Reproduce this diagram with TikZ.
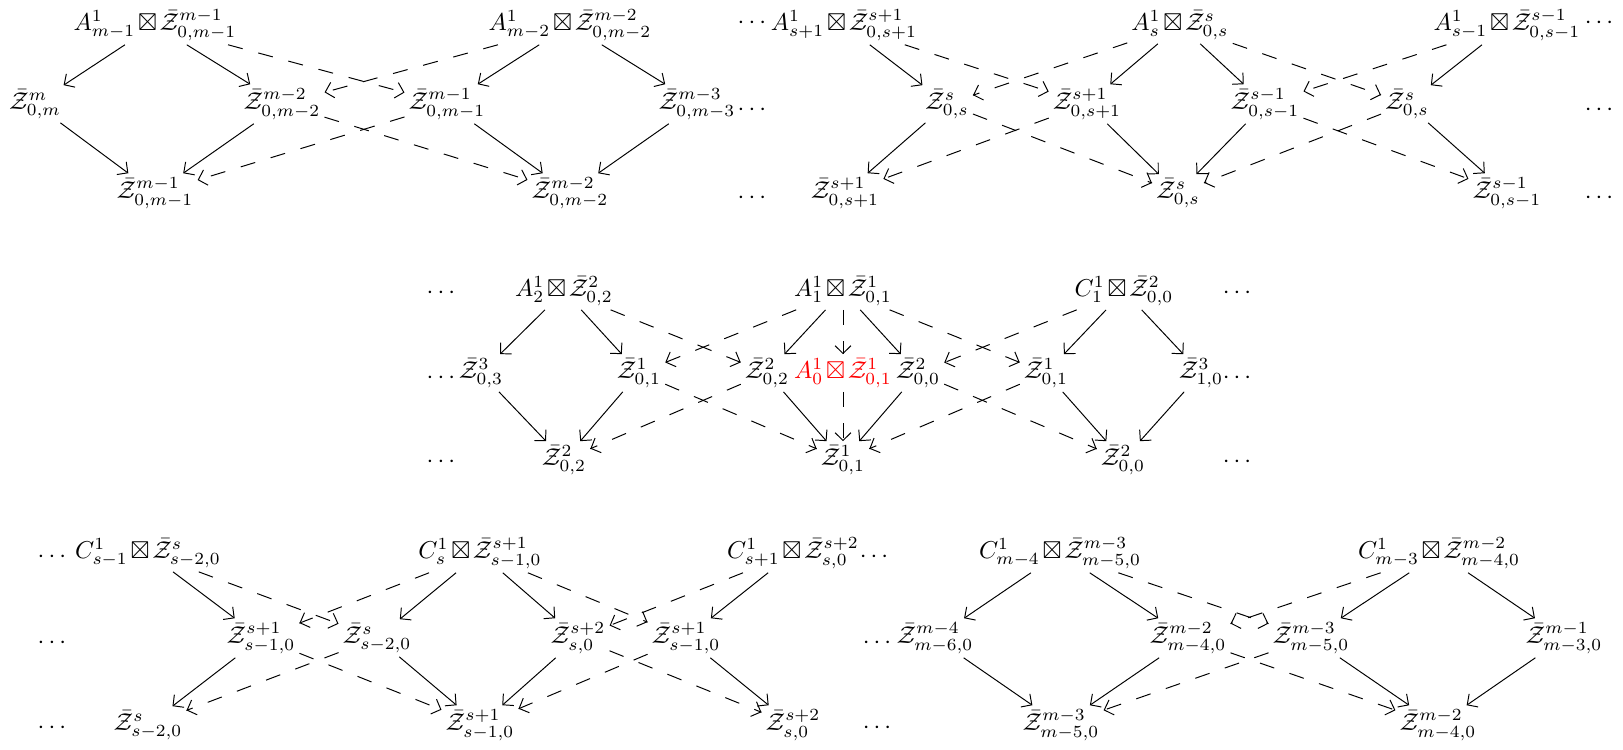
\documentclass[tikz,border=0pt]{standalone}
\usepackage{amsmath,amssymb}
\usetikzlibrary{arrows.meta,decorations.markings}
\newcommand{\zb}{\bar{\mathcal{Z}}}
\newcommand{\bx}{\mathbin{\boxtimes}}
\begin{document}
\medmuskip=2mu plus 1mu minus 1mu
\begin{tikzpicture}[x=0.41pt,y=-0.41pt,
  lbl/.style={inner sep=1.5pt},
  tipk/.tip={Straight Barb[length=3.2pt,width=6.5pt]},
  sol/.style={-tipk, line width=0.4pt},
  dsh/.style={line width=0.4pt, dash pattern=on 6.2pt off 6.6pt,
    postaction={solid, decorate, decoration={markings,
      mark=at position 1 with {\arrow{tipk}}}}}]
\useasboundingbox (0,0) rectangle (1623,749);
% ---------- top-left panel ----------
\node[lbl] (T1) at (155,25) {$A^1_{m-1}\bx\zb^{m-1}_{0,m-1}$};
\node[lbl] (L1) at (35,104) {$\zb^{m}_{0,m}$};
\node[lbl] (R1) at (282,104) {$\zb^{m-2}_{0,m-2}$};
\node[lbl] (B1) at (155,193) {$\zb^{m-1}_{0,m-1}$};
\node[lbl] (T2) at (570,25) {$A^1_{m-2}\bx\zb^{m-2}_{0,m-2}$};
\node[lbl] (L2) at (447,104) {$\zb^{m-1}_{0,m-1}$};
\node[lbl] (R2) at (697,104) {$\zb^{m-3}_{0,m-3}$};
\node[lbl] (B2) at (570,193) {$\zb^{m-2}_{0,m-2}$};
\node[lbl] (d1) at (754,23) {$\cdots$};
\node[lbl] (d2) at (754,110) {$\cdots$};
\node[lbl] (d3) at (754,198) {$\cdots$};
% ---------- top-right panel ----------
\node[lbl] (T3) at (844,25) {$A^1_{s+1}\bx\zb^{s+1}_{0,s+1}$};
\node[lbl] (R3) at (947,104) {$\zb^{s}_{0,s}$};
\node[lbl] (B3) at (845,193) {$\zb^{s+1}_{0,s+1}$};
\node[lbl] (T4) at (1180,25) {$A^1_{s}\bx\zb^{s}_{0,s}$};
\node[lbl] (L4) at (1087,104) {$\zb^{s+1}_{0,s+1}$};
\node[lbl] (R4) at (1265,104) {$\zb^{s-1}_{0,s-1}$};
\node[lbl] (B4) at (1178,193) {$\zb^{s}_{0,s}$};
\node[lbl] (T5) at (1507,25) {$A^1_{s-1}\bx\zb^{s-1}_{0,s-1}$};
\node[lbl] (L5) at (1407,104) {$\zb^{s}_{0,s}$};
\node[lbl] (B5) at (1507,193) {$\zb^{s-1}_{0,s-1}$};
\node[lbl] (d4) at (1601,23) {$\cdots$};
\node[lbl] (d5) at (1601,110) {$\cdots$};
\node[lbl] (d6) at (1601,198) {$\cdots$};
% ---------- middle panel ----------
\node[lbl] (d7) at (443,293) {$\cdots$};
\node[lbl] (d8) at (443,378) {$\cdots$};
\node[lbl] (d9) at (443,462) {$\cdots$};
\node[lbl] (T6) at (564,291) {$A^1_{2}\bx\zb^{2}_{0,2}$};
\node[lbl] (L6) at (481,373) {$\zb^{3}_{0,3}$};
\node[lbl] (R6) at (639,373) {$\zb^{1}_{0,1}$};
\node[lbl] (B6) at (564,460) {$\zb^{2}_{0,2}$};
\node[lbl] (T7) at (843,291) {$A^1_{1}\bx\zb^{1}_{0,1}$};
\node[lbl,text=red] (C7) at (843,373) {$A^1_{0}\bx\zb^{1}_{0,1}$};
\node[lbl] (L7) at (767,373) {$\zb^{2}_{0,2}$};
\node[lbl] (R7) at (918,373) {$\zb^{2}_{0,0}$};
\node[lbl] (B7) at (843,460) {$\zb^{1}_{0,1}$};
\node[lbl] (T8) at (1124,291) {$C^1_{1}\bx\zb^{2}_{0,0}$};
\node[lbl] (L8) at (1046,373) {$\zb^{1}_{0,1}$};
\node[lbl] (R8) at (1201,373) {$\zb^{3}_{1,0}$};
\node[lbl] (B8) at (1123,460) {$\zb^{2}_{0,0}$};
\node[lbl] (d10) at (1239,293) {$\cdots$};
\node[lbl] (d11) at (1239,378) {$\cdots$};
\node[lbl] (d12) at (1239,462) {$\cdots$};
% ---------- bottom panel ----------
\node[lbl] (d13) at (54,557) {$\cdots$};
\node[lbl] (d14) at (54,643) {$\cdots$};
\node[lbl] (d15) at (54,728) {$\cdots$};
\node[lbl] (T9) at (148,553) {$C^1_{s-1}\bx\zb^{s}_{s-2,0}$};
\node[lbl] (R9) at (261,638) {$\zb^{s+1}_{s-1,0}$};
\node[lbl] (B9) at (148,725) {$\zb^{s}_{s-2,0}$};
\node[lbl] (T10) at (480,553) {$C^1_{s}\bx\zb^{s+1}_{s-1,0}$};
\node[lbl] (L10) at (377,638) {$\zb^{s}_{s-2,0}$};
\node[lbl] (R10) at (578,638) {$\zb^{s+2}_{s,0}$};
\node[lbl] (B10) at (480,725) {$\zb^{s+1}_{s-1,0}$};
\node[lbl] (T11) at (793,553) {$C^1_{s+1}\bx\zb^{s+2}_{s,0}$};
\node[lbl] (L11) at (686,638) {$\zb^{s+1}_{s-1,0}$};
\node[lbl] (B11) at (793,725) {$\zb^{s+2}_{s,0}$};
\node[lbl] (d16) at (876,557) {$\cdots$};
\node[lbl] (d17) at (879,643) {$\cdots$};
\node[lbl] (d18) at (879,728) {$\cdots$};
\node[lbl] (T12) at (1060,553) {$C^1_{m-4}\bx\zb^{m-3}_{m-5,0}$};
\node[lbl] (L12) at (935,638) {$\zb^{m-4}_{m-6,0}$};
\node[lbl] (R12) at (1188,638) {$\zb^{m-2}_{m-4,0}$};
\node[lbl] (B12) at (1061,725) {$\zb^{m-3}_{m-5,0}$};
\node[lbl] (T13) at (1439,553) {$C^1_{m-3}\bx\zb^{m-2}_{m-4,0}$};
\node[lbl] (L13) at (1311,638) {$\zb^{m-3}_{m-5,0}$};
\node[lbl] (R13) at (1564,638) {$\zb^{m-1}_{m-3,0}$};
\node[lbl] (B13) at (1438,725) {$\zb^{m-2}_{m-4,0}$};
% ---------- solid arrows ----------
\foreach \i in {1,2,4,6,7,8,10,12,13}{
  \draw[sol] (T\i) -- (L\i);
  \draw[sol] (T\i) -- (R\i);
  \draw[sol] (L\i) -- (B\i);
  \draw[sol] (R\i) -- (B\i);
}
\draw[sol] (T3) -- (R3);
\draw[sol] (R3) -- (B3);
\draw[sol] (T5) -- (L5);
\draw[sol] (L5) -- (B5);
\draw[sol] (T9) -- (R9);
\draw[sol] (R9) -- (B9);
\draw[sol] (T11) -- (L11);
\draw[sol] (L11) -- (B11);
% ---------- dashed arrows ----------
\foreach \i/\j in {1/2,3/4,4/5,6/7,7/8,9/10,10/11,12/13}{
  \draw[dsh] (T\i) -- (L\j);
  \draw[dsh] (T\j) -- (R\i);
  \draw[dsh] (R\i) -- (B\j);
  \draw[dsh] (L\j) -- (B\i);
}
\draw[dsh] (T7) -- (C7);
\draw[dsh] (C7) -- (B7);
\end{tikzpicture}
\end{document}
